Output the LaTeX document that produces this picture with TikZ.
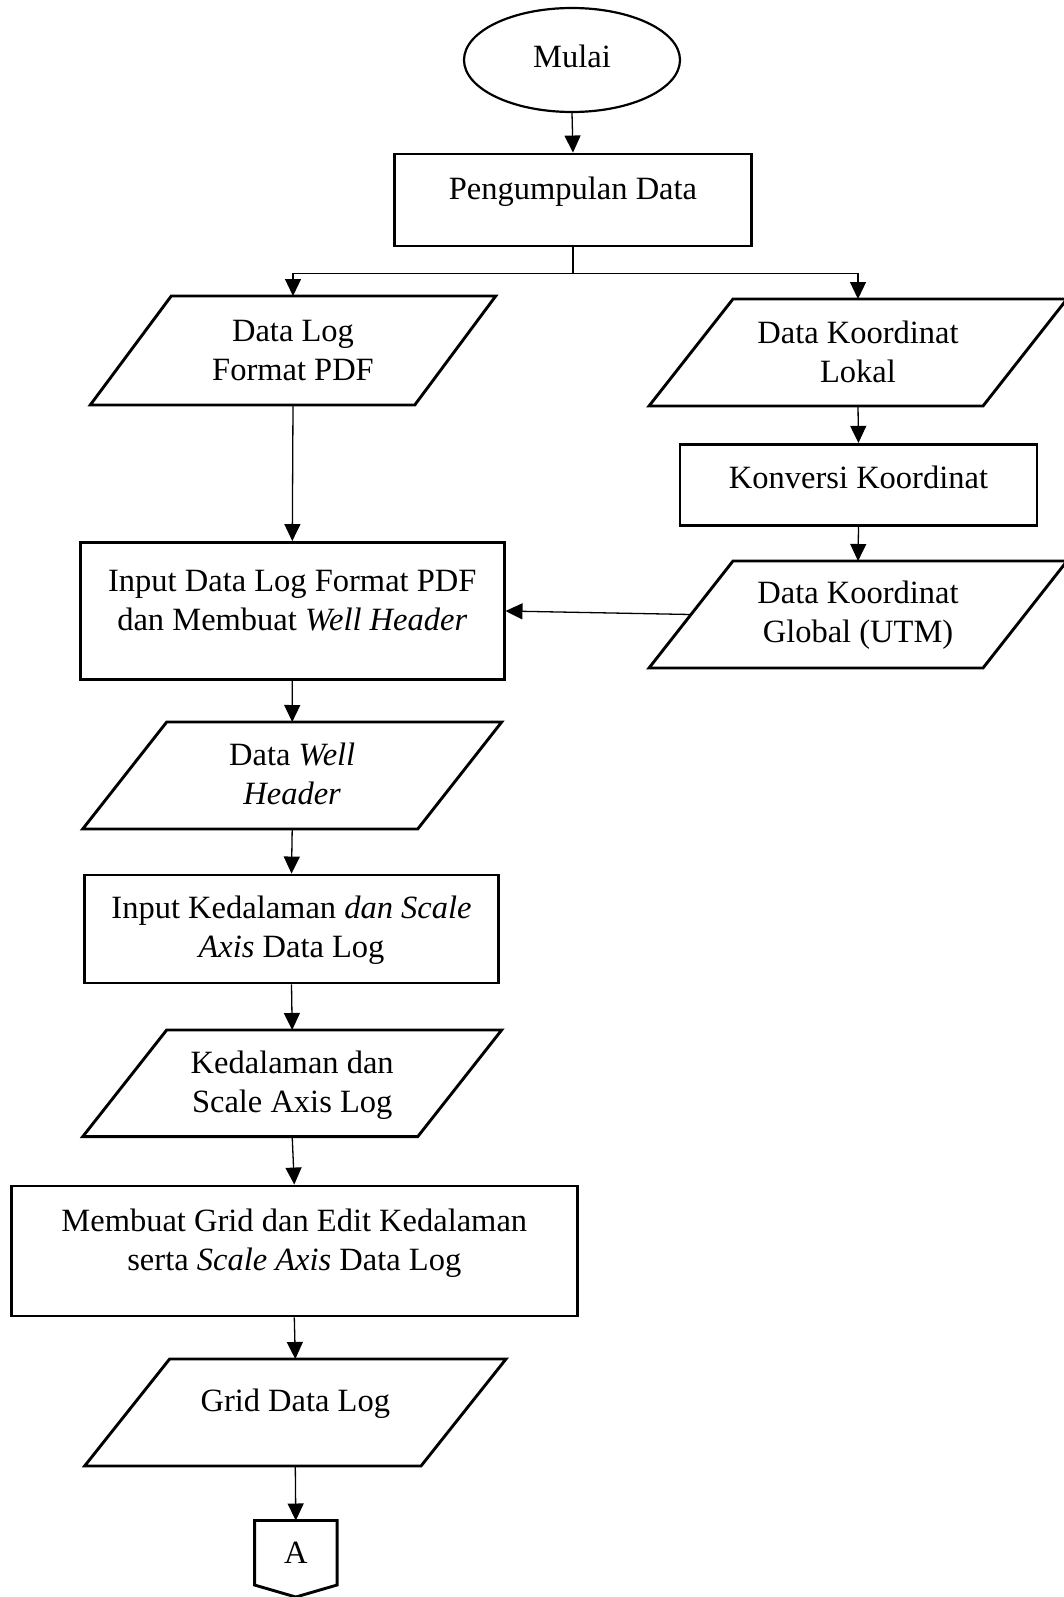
\documentclass[tikz,border=0pt]{standalone}
\usepackage{fontspec}
\setmainfont{Liberation Serif}
\usetikzlibrary{shapes.geometric,arrows.meta}
\newcommand{\mlines}[1]{\begin{tabular}[t]{@{}c@{}}#1\end{tabular}}
\begin{document}
\begin{tikzpicture}[x=1pt,y=-1pt,
  bord/.style={line width=2.9pt,line join=miter},
  rbox/.style={draw,rectangle,line width=2.9pt,inner sep=0pt},
  iobox/.style={rectangle,inner sep=0pt,outer sep=0pt},
  txt/.style={font=\fontsize{32.5}{39}\selectfont,anchor=base,inner sep=0pt,yshift=-1.5pt},
  arr/.style={line width=1.3pt,-{Triangle[length=17pt,width=16pt]}}]
\useasboundingbox (0,0) rectangle (1064,1597);

% nodes
\node[draw,ellipse,line width=2.2pt,minimum width=216pt,minimum height=104pt,inner sep=0pt] (mulai) at (572,60) {};
\node[txt] (mulai-t) at (572,66) {Mulai};

\node[rbox,minimum width=357pt,minimum height=92pt] (pd) at (573,200) {};
\node[txt] (pd-t) at (573,198) {Pengumpulan Data};

\node[iobox,minimum width=405.5pt,minimum height=109pt] (dl) at (293,350.5) {};
\node[txt] (dl-t) at (293,340) {\mlines{Data Log\\Format PDF}};

\node[iobox,minimum width=418pt,minimum height=107pt] (lok) at (858,352.5) {};
\node[txt] (lok-t) at (858,341.7) {\mlines{Data Koordinat\\Lokal}};

\node[rbox,minimum width=357pt,minimum height=81.4pt] (konv) at (858.5,485) {};
\node[txt] (konv-t) at (858.5,486.7) {Konversi Koordinat};

\node[iobox,minimum width=418pt,minimum height=107pt] (glob) at (858,614.5) {};
\node[txt] (glob-t) at (858,601.7) {\mlines{Data Koordinat\\Global (UTM)}};

\node[rbox,minimum width=423.5pt,minimum height=137pt] (inp) at (292.3,611) {};
\node[txt] (inp-t) at (292.3,590) {\mlines{Input Data Log Format PDF\\dan Membuat \textit{Well Header}}};

\node[iobox,minimum width=419pt,minimum height=107pt] (wh) at (292.2,775.5) {};
\node[txt] (wh-t) at (292.2,764) {\mlines{Data \textit{Well}\\\textit{Header}}};

\node[rbox,minimum width=414pt,minimum height=108pt] (ik) at (291.5,929) {};
\node[txt] (ik-t) at (291.5,917) {\mlines{Input Kedalaman \textit{dan Scale}\\\textit{Axis} Data Log}};

\node[iobox,minimum width=419pt,minimum height=106.7pt] (ks) at (292.2,1083.3) {};
\node[txt] (ks-t) at (292.2,1071.7) {\mlines{Kedalaman dan\\Scale Axis Log}};

\node[rbox,minimum width=566.5pt,minimum height=130pt] (mg) at (294.3,1251) {};
\node[txt] (mg-t) at (294.3,1230) {\mlines{Membuat Grid dan Edit Kedalaman\\serta \textit{Scale Axis} Data Log}};

\node[iobox,minimum width=421.4pt,minimum height=107pt] (gd) at (295.3,1412.5) {};
\node[txt] (gd-t) at (295.3,1410) {Grid Data Log};

\node[iobox,minimum width=82.5pt,minimum height=76.5pt] (conA) at (295.8,1558.75) {};
\node[txt] (conA-t) at (295.8,1562) {A};

% parallelogram outlines
\foreach \n/\s in {dl/81,lok/84,glob/84,wh/84,ks/84,gd/85}
  \draw[bord] (\n.south west) -- ([xshift=\s pt]\n.north west) -- (\n.north east) -- ([xshift=-\s pt]\n.south east) -- cycle;

% off-page connector
\draw[bord] (conA.north west) -- (conA.north east) -- ([yshift=12pt]conA.south east) -- (conA.south) -- ([yshift=12pt]conA.south west) -- cycle;

% connectors
\draw[arr] (mulai.south) -- (pd.north);
\path (pd.south) ++(0,25.7) coordinate (br);
\draw[line width=1.3pt] (pd.south) -- (br);
\draw[arr] (br) -| (dl.north);
\draw[arr] (br) -| (lok.north);
\draw[arr] (dl.south) -- (inp.north);
\draw[arr] (lok.south) -- (konv.north);
\draw[arr] (konv.south) -- (glob.north);
\draw[arr] ([xshift=42pt]glob.west) -- (inp.east);
\draw[arr] (inp.south) -- (wh.north);
\draw[arr] (wh.south) -- (ik.north);
\draw[arr] (ik.south) -- (ks.north);
\draw[arr] (ks.south) -- (mg.north);
\draw[arr] (mg.south) -- (gd.north);
\draw[arr] (gd.south) -- (conA.north);
\end{tikzpicture}
\end{document}
